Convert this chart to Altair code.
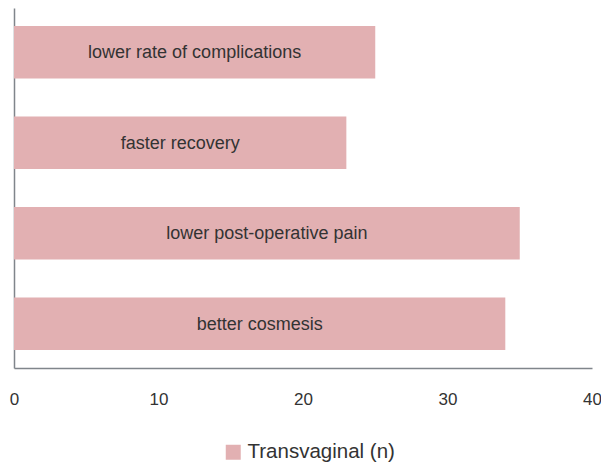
import altair as alt
import pandas as pd

categories = ["lower rate of complications", "faster recovery", "lower post-operative pain", "better cosmesis"]
values = [25, 23, 35, 34]
series = ["Transvaginal (n)"] * 4
x_ticks = [0, 10, 20, 30, 40]

df = pd.DataFrame({"category": categories, "value": values, "series": series})

FONT = "Liberation Sans"
BAR = "#E2B0B2"

y_enc = alt.Y("category:N", sort=categories, axis=alt.Axis(labels=False, ticks=False, title=None,
              domainColor="#80858b", domainWidth=1.5, grid=False),
              scale=alt.Scale(paddingInner=0.422, paddingOuter=0.2))

bars = alt.Chart(df).mark_bar(color=BAR).encode(
    x=alt.X("value:Q", scale=alt.Scale(domain=[0, 40]),
            axis=alt.Axis(values=x_ticks, title=None, ticks=False, grid=False, tickSize=0,
                          labelFontSize=17, labelFont=FONT, labelColor="#333333",
                          labelFlush=False, labelPadding=23,
                          domainColor="#80858b", domainWidth=1.5)),
    y=y_enc,
    color=alt.Color("series:N", scale=alt.Scale(range=[BAR]),
                    legend=alt.Legend(title=None, orient="none", legendX=209, legendY=434,
                                      symbolType="square", symbolSize=225, symbolStrokeWidth=0,
                                      labelFont=FONT, labelFontSize=20.5, labelColor="#333333",
                                      labelOffset=4)),
)

labels = alt.Chart(df).transform_calculate(mid="datum.value / 2").mark_text(
    font=FONT, fontSize=18, color="#333333", baseline="middle", align="center", dy=1
).encode(
    x=alt.X("mid:Q"),
    y=alt.Y("category:N", sort=categories),
    text="category:N",
)

chart = alt.layer(bars, labels).properties(
    width=578, height=360,
    autosize=alt.AutoSizeParams(type="none"),
    padding={"left": 6, "top": 0, "right": 9, "bottom": 94},
).configure(background="white", view=alt.ViewConfig(stroke=None))

chart.save("out.html", embed_options={"renderer": "svg", "actions": False})
